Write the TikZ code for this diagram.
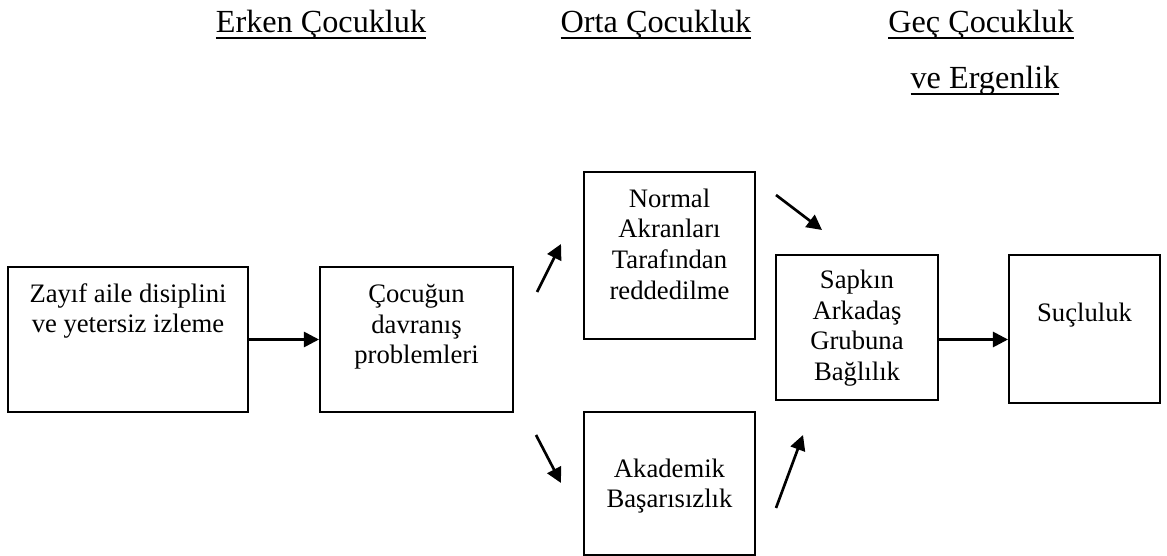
\documentclass[tikz,border=0pt]{standalone}
\usepackage{fontspec}
\setmainfont{Liberation Serif}
\usetikzlibrary{arrows.meta,positioning}
\newcommand{\ulText}[1]{\setbox0\hbox{#1}\rlap{\rule[-2.7pt]{\wd0}{0.9pt}}\box0}

\begin{document}
\begin{tikzpicture}[x=0.45pt, y=-0.45pt,
        box/.style={draw, line width=0.9pt, inner sep=0pt},
        txt/.style={align=center, inner sep=0pt, font=\fontsize{12}{13.8}\selectfont},
        hd/.style={anchor=base, inner sep=0pt, font=\fontsize{14.5}{17}\selectfont},
        ar/.style={line width=1.2pt, -{Triangle[length=6.8pt,width=6.8pt]}}]
    \useasboundingbox (0,0) rectangle (1167,556);

    % headers
    \node[hd] (erken) at (321,33) {\ulText{Erken Çocukluk}};
    \node[hd] (orta) at (656,33) {\ulText{Orta Çocukluk}};
    \node[hd] (gec) at (981,33) {\ulText{Geç Çocukluk}};
    \node[hd] (ergen) at (985,89) {\ulText{ve Ergenlik}};

    % boxes
    \node[box, minimum width=108pt, minimum height=65.25pt] (zayif) at (128,339.5) {};
    \node[box, minimum width=86.85pt, minimum height=65.25pt] (cocuk) at (416.5,339.5) {};
    \node[box, minimum width=76.95pt, minimum height=75.15pt] (akran) at (669.5,255.5) {};
    \node[box, minimum width=76.95pt, minimum height=64.35pt] (akad) at (669.5,483.5) {};
    \node[box, minimum width=72.9pt, minimum height=65.25pt] (sapkin) at (857,327.5) {};
    \node[box, minimum width=67.95pt, minimum height=66.6pt] (suc) at (1084.5,329) {};

    % texts
    \node[txt] (zayifT) at (128,311) {Zayıf aile disiplini\\ve yetersiz izleme};
    \node[txt] (cocukT) at (416.5,327) {Çocuğun\\davranış\\problemleri};
    \node[txt] (akranT) at (669.5,244) {Normal\\Akranları\\Tarafından\\reddedilme};
    \node[txt] (akadT) at (669.5,486) {Akademik\\Başarısızlık};
    \node[txt] (sapkinT) at (857,328) {Sapkın\\Arkadaş\\Grubuna\\Bağlılık};
    \node[txt] (sucT) at (1084.5,315) {Suçluluk};

    % free arrows
    \coordinate (up1) at (537,292);
    \coordinate (up1e) at (561,244);
    \coordinate (dn1) at (536,435);
    \coordinate (dn1e) at (561,483);
    \coordinate (dn2) at (776,195);
    \coordinate (dn2e) at (822,230);
    \coordinate (up2) at (776,508);
    \coordinate (up2e) at (803,435);

    \draw[ar] (zayif) -- (cocuk);
    \draw[ar] (up1) -- (up1e);
    \draw[ar] (dn1) -- (dn1e);
    \draw[ar] (dn2) -- (dn2e);
    \draw[ar] (up2) -- (up2e);
    \draw[ar] (sapkin.east |- zayif) -- (suc.west |- zayif);
\end{tikzpicture}
\end{document}
